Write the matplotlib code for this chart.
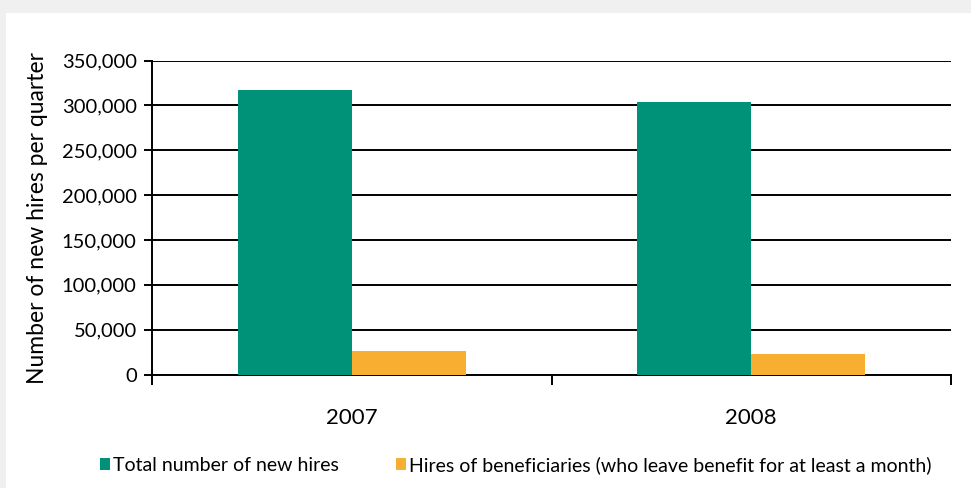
import matplotlib.pyplot as plt
from matplotlib.patches import Rectangle, Patch
import matplotlib.ticker as mticker
import numpy as np

plt.rcParams['font.family'] = ['Lato', 'DejaVu Sans']

# data
years = ["2007", "2008"]
total_hires = [317500, 303500]
beneficiary_hires = [26000, 22500]
series_names = ["Total number of new hires",
                "Hires of beneficiaries (who leave benefit for at least a month)"]
green = "#009179"
orange = "#f8ae31"

fig = plt.figure(figsize=(9.71, 4.88), dpi=100)
fig.patch.set_facecolor("#f0f0f0")
# white panel, gray strip on the left and top
fig.patches.append(Rectangle((6 / 971, 0), 1, 1 - 13 / 488, transform=fig.transFigure,
                             facecolor="white", edgecolor="none", zorder=-10))

ax = fig.add_axes([152 / 971, 1 - 374.5 / 488, 799 / 971, 314 / 488])
ax.set_facecolor("white")

x = np.arange(len(years))
w = 0.285
ax.bar(x - w / 2, total_hires, w, color=green, zorder=3)
ax.bar(x + w / 2, beneficiary_hires, w, color=orange, zorder=3)

ax.set_xlim(-0.5, len(years) - 0.5)
ax.set_ylim(0, 350000)
ax.yaxis.set_major_locator(mticker.MultipleLocator(50000))
ax.yaxis.set_major_formatter(mticker.FuncFormatter(lambda v, p: f"{int(v):,}"))
ax.grid(axis="y", color="black", linewidth=1.4, zorder=1)
ax.set_axisbelow(True)

ax.set_xticks(x)
ax.set_xticklabels(years)
ax.set_xticks(np.arange(len(years) + 1) - 0.5, minor=True)
ax.tick_params(axis="x", which="major", length=0, pad=24, labelsize=16)
ax.tick_params(axis="x", which="minor", length=7, width=1.4, color="black")
ax.tick_params(axis="y", length=6, width=1.4, labelsize=14.5, pad=5)

for side in ["top", "right"]:
    ax.spines[side].set_visible(False)
for side in ["left", "bottom"]:
    ax.spines[side].set_linewidth(1.4)
    ax.spines[side].set_color("black")

ax.set_ylabel("Number of new hires per quarter", fontsize=16.5, labelpad=10)

handles = [Patch(facecolor=green), Patch(facecolor=orange)]
fig.legend(handles, series_names, loc="center left", bbox_to_anchor=(92 / 971, 1 - 465 / 488),
           ncol=2, frameon=False, fontsize=14, handlelength=0.55, handleheight=0.55,
           handletextpad=0.15, columnspacing=2.9, borderaxespad=0)

fig.savefig("out.png", dpi=100, facecolor=fig.get_facecolor())
